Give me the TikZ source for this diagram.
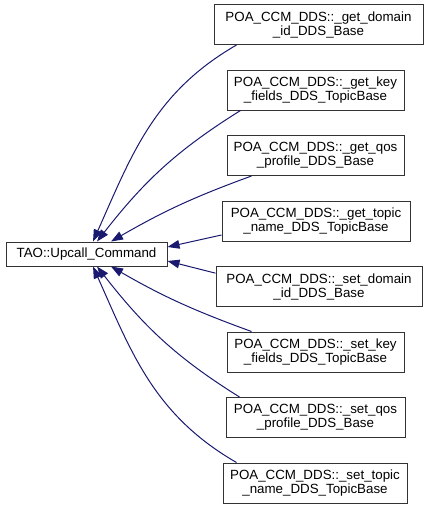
\documentclass[tikz,border=0pt]{standalone}
\usepackage{fontspec}
\setmainfont{Liberation Sans}
\usetikzlibrary{arrows.meta}
\definecolor{edgeblue}{HTML}{191970}
\begin{document}
\begin{tikzpicture}[x=0.75pt,y=0.75pt,
	cls/.style={draw=black!80,fill=white,line width=0.75pt,align=center,inner sep=0pt,
		minimum height=30pt,font=\fontsize{10}{10.5}\selectfont},
	edge/.style={edgeblue,line width=0.75pt,-{Triangle[length=9pt,width=6.5pt]}}]
	\useasboundingbox (0,0) rectangle (429,-508);
	\node[cls,minimum width=120.75pt,minimum height=18pt] (base) at (86.5,-254) {TAO::Upcall\_Command};
	\node[cls,minimum width=156.75pt] (c1) at (318.5,-24.5) {POA\_CCM\_DDS::\_get\_domain\\\_id\_DDS\_Base};
	\node[cls,minimum width=132.75pt] (c2) at (315.5,-90) {POA\_CCM\_DDS::\_get\_key\\\_fields\_DDS\_TopicBase};
	\node[cls,minimum width=132.75pt] (c3) at (315.5,-155.5) {POA\_CCM\_DDS::\_get\_qos\\\_profile\_DDS\_Base};
	\node[cls,minimum width=141pt] (c4) at (316,-221) {POA\_CCM\_DDS::\_get\_topic\\\_name\_DDS\_TopicBase};
	\node[cls,minimum width=154.5pt] (c5) at (319,-286.5) {POA\_CCM\_DDS::\_set\_domain\\\_id\_DDS\_Base};
	\node[cls,minimum width=132.75pt] (c6) at (315.5,-352) {POA\_CCM\_DDS::\_set\_key\\\_fields\_DDS\_TopicBase};
	\node[cls,minimum width=134.25pt] (c7) at (315.5,-417.5) {POA\_CCM\_DDS::\_set\_qos\\\_profile\_DDS\_Base};
	\node[cls,minimum width=138pt] (c8) at (315,-483) {POA\_CCM\_DDS::\_set\_topic\\\_name\_DDS\_TopicBase};
	% upper children
	\draw[edge] ([xshift=17.25pt]c1.south west) to[out=210,in=66] ([xshift=4.9pt]base.north);
	\draw[edge] ([xshift=10.5pt]c2.south west) to[out=212,in=52] ([xshift=7.9pt]base.north);
	\draw[edge] ([xshift=18.75pt]c3.south west) to[out=200,in=30] ([xshift=18.4pt]base.north);
	% middle children
	\draw[edge] ([yshift=-10.5pt]c4.west) -- ([yshift=5.25pt]base.east);
	\draw[edge] ([yshift=10pt]c5.west) -- ([yshift=-5.25pt]base.east);
	% lower children
	\draw[edge] ([xshift=18.75pt]c6.north west) to[out=160,in=-30] ([xshift=18.4pt]base.south);
	\draw[edge] ([xshift=10.5pt]c7.north west) to[out=148,in=-52] ([xshift=7.9pt]base.south);
	\draw[edge] ([xshift=10.5pt]c8.north west) to[out=150,in=-66] ([xshift=4.9pt]base.south);
\end{tikzpicture}
\end{document}
